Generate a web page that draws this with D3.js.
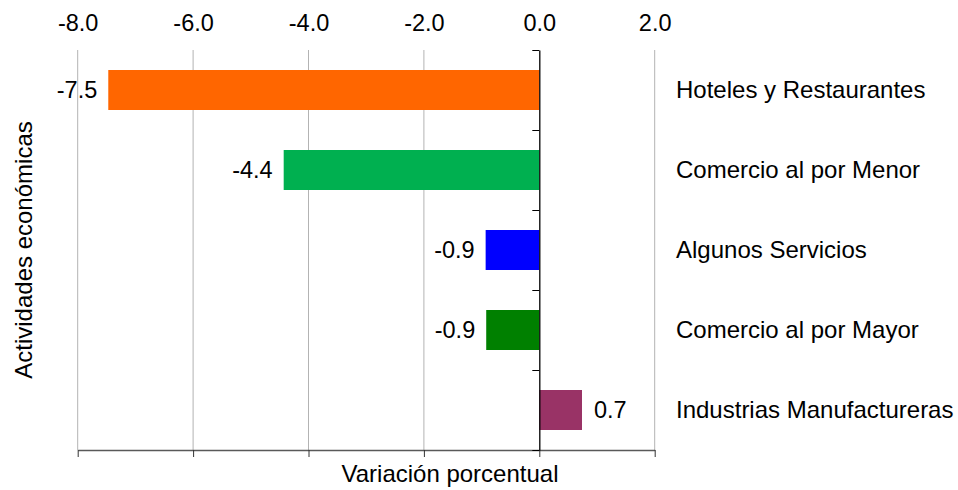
<!DOCTYPE html>
<html>
<head>
<meta charset="utf-8">
<script src="https://cdn.jsdelivr.net/npm/d3@7"></script>
<style>
  body { margin: 0; background: #fff; }
  svg { display: block; font-family: "Liberation Sans", Arial, sans-serif; }
</style>
</head>
<body>
<svg id="chart"></svg>
<script>
const categories = ["Hoteles y Restaurantes", "Comercio al por Menor", "Algunos Servicios", "Comercio al por Mayor", "Industrias Manufactureras"];
const values = [-7.47, -4.43, -0.93, -0.92, 0.74];
const barColors = ["#FF6600", "#00B050", "#0000FF", "#008000", "#993366"];
const xTicks = [-8, -6, -4, -2, 0, 2];

const W = 958, H = 490;
const plot = { left: 77.7, right: 654.7, top: 50, bottom: 450 };

const svg = d3.select("#chart").attr("width", W).attr("height", H);

const x = d3.scaleLinear().domain([-8, 2]).range([plot.left, plot.right]);
const y = d3.scaleBand().domain(categories).range([plot.top, plot.bottom])
    .paddingInner(0.5).paddingOuter(0.25);

// gridlines
svg.append("g")
    .selectAll("line")
    .data(xTicks.filter(d => d !== 0))
    .enter().append("line")
    .attr("x1", d => x(d)).attr("x2", d => x(d))
    .attr("y1", plot.top).attr("y2", plot.bottom)
    .attr("stroke", "#B3B3B3")
    .attr("stroke-width", 1);

// top tick labels
const topAxis = svg.append("g")
    .attr("transform", `translate(0,${plot.top})`)
    .call(d3.axisTop(x).tickValues(xTicks).tickSize(0).tickPadding(19)
        .tickFormat(d => d.toFixed(1)));
topAxis.select(".domain").remove();
topAxis.selectAll("text")
    .attr("font-size", 23.5)
    .attr("font-family", "Liberation Sans, Arial, sans-serif")
    .attr("fill", "#000");

// bottom axis line with ticks
const bottomAxis = svg.append("g")
    .attr("transform", `translate(0,${plot.bottom})`)
    .call(d3.axisBottom(x).tickValues(xTicks).tickSize(7).tickSizeOuter(0).tickFormat(""));
bottomAxis.select(".domain").attr("stroke", "#595959").attr("stroke-width", 1.5);
bottomAxis.selectAll(".tick line").attr("stroke", "#333");

// bars
svg.append("g")
    .selectAll("rect")
    .data(values)
    .enter().append("rect")
    .attr("x", d => x(Math.min(0, d)))
    .attr("y", (d, i) => y(categories[i]))
    .attr("width", d => Math.abs(x(d) - x(0)))
    .attr("height", y.bandwidth())
    .attr("fill", (d, i) => barColors[i]);

// zero axis with ticks at band boundaries
const yb = d3.scaleLinear().domain([0, categories.length]).range([plot.top, plot.bottom]);
const zeroAxis = svg.append("g")
    .attr("transform", `translate(${x(0)},0)`)
    .call(d3.axisLeft(yb).ticks(categories.length).tickSize(7).tickSizeOuter(0).tickFormat(""));
zeroAxis.select(".domain").attr("stroke", "#000").attr("stroke-width", 1.3);
zeroAxis.selectAll(".tick line").attr("stroke", "#000");

// value labels
svg.append("g")
    .selectAll("text")
    .data(values)
    .enter().append("text")
    .attr("x", d => d < 0 ? x(d) - 11 : x(d) + 12)
    .attr("y", (d, i) => y(categories[i]) + y.bandwidth() / 2)
    .attr("dy", "0.35em")
    .attr("text-anchor", d => d < 0 ? "end" : "start")
    .attr("font-size", 23.5)
    .attr("fill", "#000")
    .text(d => d.toFixed(1));

// category labels
svg.append("g")
    .selectAll("text")
    .data(categories)
    .enter().append("text")
    .attr("x", 676)
    .attr("y", d => y(d) + y.bandwidth() / 2)
    .attr("dy", "0.35em")
    .attr("font-size", 24)
    .attr("fill", "#000")
    .text(d => d);

// axis titles
svg.append("text")
    .attr("x", 450)
    .attr("y", 482)
    .attr("text-anchor", "middle")
    .attr("font-size", 24)
    .attr("fill", "#000")
    .text("Variación porcentual");

svg.append("text")
    .attr("transform", `translate(32,${(plot.top + plot.bottom) / 2}) rotate(-90)`)
    .attr("text-anchor", "middle")
    .attr("font-size", 24)
    .attr("fill", "#000")
    .text("Actividades económicas");
</script>
</body>
</html>
